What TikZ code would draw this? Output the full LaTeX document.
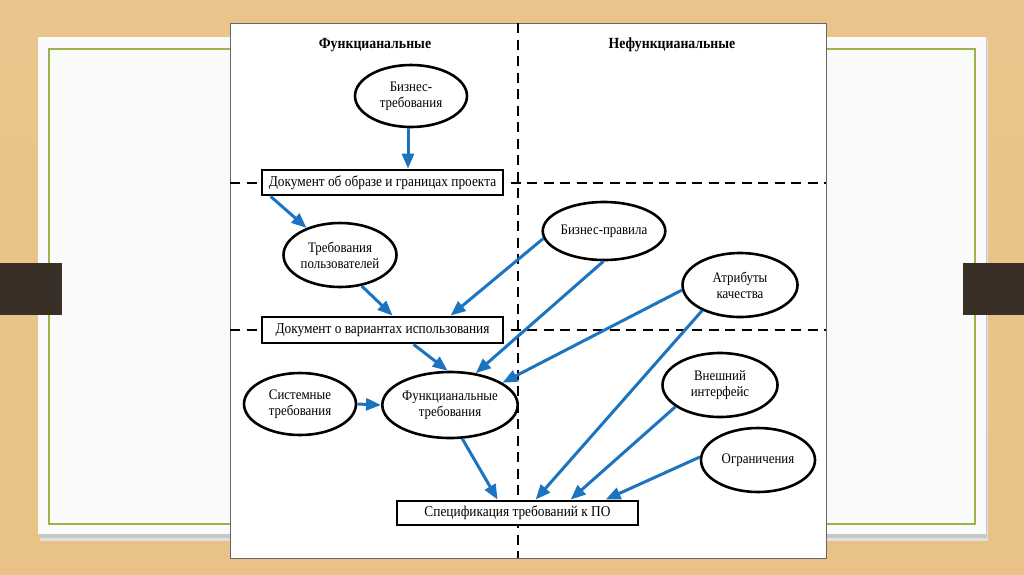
\documentclass[tikz,border=0pt]{standalone}
\usepackage{fontspec}
\setmainfont{Liberation Serif}[FakeStretch=0.89]
\usetikzlibrary{shapes.geometric,arrows.meta}
\definecolor{wood}{HTML}{E9C286}
\definecolor{woodlight}{HTML}{EAC48A}
\definecolor{panel}{HTML}{FAFAFA}
\definecolor{frameline}{HTML}{98B545}
\definecolor{tab}{HTML}{3A2F27}
\definecolor{arrowblue}{RGB}{28,116,192}
\tikzset{
  ell/.style={ellipse, draw=black, line width=2.6pt, fill=white, inner sep=0pt,
    font=\fontsize{14.5}{16}\selectfont, align=center},
  docbox/.style={rectangle, draw=black, line width=2.8pt, fill=white, inner sep=0pt,
    minimum width=241pt, minimum height=25pt, font=\fontsize{15}{17}\selectfont},
  hdr/.style={font=\bfseries\fontsize{15.5}{17}\selectfont},
  flow/.style={draw=arrowblue, line width=3pt, -{Triangle[length=15pt,width=12pt]}},
  sep/.style={draw=black, line width=2.2pt, dash pattern=on 10pt off 6.5pt}
}
\begin{document}
\begin{tikzpicture}[x=1pt,y=-1pt]
\useasboundingbox (0,0) rectangle (1024,574);
% background
\fill[top color=woodlight, bottom color=wood] (0,0) rectangle (1024,574);
% slide panel with shadow
\fill[black!12] (40,38) rectangle (988,541);
\fill[black!22] (40,38) rectangle (987,538);
\fill[panel] (38,37) rectangle (986,534);
\draw[frameline, line width=1.2pt] (49,49) rectangle (975,524);
% tabs
\fill[tab] (0,263) rectangle (62,315);
\fill[tab] (963,263) rectangle (1024,315);
% diagram sheet
\fill[white] (230,23) rectangle (826,558);
\draw[black!60, line width=1pt] (230,23) rectangle (826,558);
% separators
\coordinate (vt) at (518,23);
\coordinate (vb) at (518,558);
\coordinate (h1l) at (230,183);
\coordinate (h1r) at (826,183);
\coordinate (h2l) at (230,330);
\coordinate (h2r) at (826,330);
\draw[sep] (vt) -- (vb);
\draw[sep] (h1l) -- (h1r);
\draw[sep] (h2l) -- (h2r);
% headers
\node[hdr] (hf) at (375,45) {Функцианальные};
\node[hdr] (hn) at (672,45) {Нефункцианальные};
% nodes
\node[ell, minimum width=112pt, minimum height=62pt] (bt) at (411,96) {Бизнес-\\требования};
\node[docbox] (doc1) at (382.5,182.5) {Документ об образе и границах проекта};
\node[ell, minimum width=113pt, minimum height=64pt] (tp) at (340,255) {Требования\\пользователей};
\node[docbox, minimum height=26pt] (doc2) at (382.5,330) {Документ о вариантах использования};
\node[ell, minimum width=112pt, minimum height=62pt] (sr) at (300,404) {Системные\\требования};
\node[ell, minimum width=118pt, minimum height=66pt] (fr) at (450,405) {Функцианальные\\требования};
\node[docbox, minimum height=24pt] (spec) at (517.5,513) {Спецификация требований к ПО};
\node[ell, minimum width=116pt, minimum height=58pt] (bp) at (604,231) {Бизнес-правила};
\node[ell, minimum width=115pt, minimum height=64pt] (aq) at (740,285) {Атрибуты\\качества};
\node[ell, minimum width=115pt, minimum height=64pt] (vi) at (720,385) {Внешний\\интерфейс};
\node[ell, minimum width=114pt, minimum height=64pt] (og) at (758,460) {Ограничения};
% connectors
\draw[flow] ([xshift=-3pt]bt.south) -- ([xshift=-3pt]bt.south |- doc1.north);
\draw[flow] ([xshift=10pt]doc1.south west) -- (tp.141);
\draw[flow] (tp.-55) -- ([xshift=132pt]doc2.north west);
\draw[flow] (bp.-173) -- ([xshift=190pt]doc2.north west);
\draw[flow] (bp.-91) -- (fr.51);
\draw[flow] (aq.-175) -- (fr.23);
\draw[flow] ([xshift=153pt]doc2.south west) -- (fr.94);
\draw[flow] (sr.east) -- (fr.west);
\draw[flow] (fr.-70) -- ([xshift=102pt]spec.north west);
\draw[flow] (aq.-146) -- ([xshift=140pt]spec.north west);
\draw[flow] (vi.-154) -- ([xshift=175pt]spec.north west);
\draw[flow] (og.177) -- ([xshift=210pt]spec.north west);
\end{tikzpicture}
\end{document}
